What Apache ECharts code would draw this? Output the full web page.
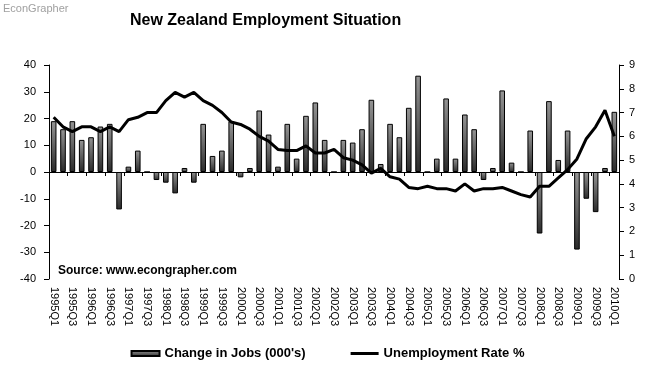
<!DOCTYPE html>
<html>
<head>
<meta charset="utf-8">
<script src="https://cdn.jsdelivr.net/npm/echarts@6/dist/echarts.min.js"></script>
<style>
html,body{margin:0;padding:0;background:#fff;}
#c{width:655px;height:365px;}
</style>
</head>
<body>
<div id="c"></div>
<script>
// Categories: quarters 1995Q1 .. 2010Q1
const quarters = [];
for (let y = 1995; y <= 2010; y++) {
  for (let q = 1; q <= 4; q++) {
    if (y === 2010 && q > 1) break;
    quarters.push(y + 'Q' + q);
  }
}
// Change in Jobs (000's)
const jobsChange = [
  19, 16, 19, 12, 13, 17, 18, -14, 2, 8,
  0, -3, -4, -8, 1.5, -4, 18, 6, 8, 19,
  -2, 1.5, 23, 14, 2, 18, 5, 21, 26, 12,
  0, 12, 11, 16, 27, 3, 18, 13, 24, 36,
  0, 5, 27.5, 5, 21.5, 16, -3, 1.5, 30.5, 3.5,
  0, 15.5, -23, 26.5, 4.5, 15.5, -29, -10, -15, 1.5,
  22.5
];
// Unemployment Rate %
const unemploymentRate = [
  6.8, 6.4, 6.2, 6.4, 6.4, 6.2, 6.4, 6.2, 6.7, 6.8,
  7.0, 7.0, 7.5, 7.85, 7.65, 7.85, 7.5, 7.3, 7.0, 6.6,
  6.5, 6.3, 6.0, 5.8, 5.45, 5.4, 5.4, 5.6, 5.3, 5.3,
  5.45, 5.1, 5.0, 4.8, 4.45, 4.65, 4.3, 4.2, 3.85, 3.8,
  3.9, 3.8, 3.8, 3.7, 4.0, 3.7, 3.8, 3.8, 3.85, 3.7,
  3.55, 3.45, 3.9, 3.9, 4.25, 4.6, 5.05, 5.9, 6.4, 7.1,
  6.0
];

const FONT = '"Liberation Sans", Arial, sans-serif';
const chart = echarts.init(document.getElementById('c'), null, {renderer: 'canvas'});
chart.setOption({
  animation: false,
  backgroundColor: '#fff',
  textStyle: {fontFamily: FONT},
  title: {
    text: 'New Zealand Employment Situation',
    left: 125,
    top: 8,
    textStyle: {fontFamily: FONT, fontSize: 16, fontWeight: 'bold', color: '#000'}
  },
  graphic: [
    {type: 'text', left: 3, top: 3, style: {text: 'EconGrapher', fill: '#a0a0a0', font: '11px ' + FONT}},
    {type: 'text', left: 58, top: 265, z: 10, style: {text: 'Source: www.econgrapher.com', fill: '#000', font: 'bold 12px ' + FONT}}
  ],
  legend: {
    left: 'center',
    top: 342,
    itemGap: 45,
    itemWidth: 28,
    itemHeight: 5,
    textStyle: {fontFamily: FONT, fontSize: 13, fontWeight: 'bold', color: '#000'},
    data: [
      {name: "Change in Jobs (000's)", icon: 'rect'},
      {name: 'Unemployment Rate %', icon: 'path://M0,0L28,0L28,3L0,3Z'}
    ]
  },
  grid: {left: 49, right: 36, top: 65, bottom: 86, containLabel: false},
  xAxis: [
    {
      type: 'category',
      data: quarters,
      position: 'bottom',
      axisLine: {show: false, onZero: false},
      axisTick: {show: false},
      axisLabel: {interval: 1, rotate: -90, fontSize: 11, color: '#000', margin: 8, fontFamily: FONT}
    },
    {
      type: 'category',
      data: quarters,
      position: 'top',
      axisLine: {show: true, onZero: true, onZeroAxisIndex: 0, lineStyle: {color: '#000', width: 1}},
      axisTick: {show: true, interval: 1, length: 4, inside: true, lineStyle: {color: '#000'}},
      axisLabel: {show: false},
      splitLine: {show: false}
    }
  ],
  yAxis: [
    {
      type: 'value',
      min: -40, max: 40, interval: 10,
      axisLine: {show: true, lineStyle: {color: '#000'}},
      axisTick: {show: true, length: 5, lineStyle: {color: '#000'}},
      axisLabel: {fontSize: 11, color: '#000', margin: 13, fontFamily: FONT},
      splitLine: {show: false}
    },
    {
      type: 'value',
      min: 0, max: 9, interval: 1,
      position: 'right',
      axisLine: {show: true, lineStyle: {color: '#000'}},
      axisTick: {show: true, length: 5, lineStyle: {color: '#000'}},
      axisLabel: {fontSize: 11, color: '#000', margin: 10, fontFamily: FONT},
      splitLine: {show: false}
    }
  ],
  series: [
    {
      name: "Change in Jobs (000's)",
      type: 'bar',
      xAxisIndex: 0,
      yAxisIndex: 0,
      data: jobsChange,
      barWidth: '60%',
      itemStyle: {
        color: new echarts.graphic.LinearGradient(0, 0, 0, 1, [
          {offset: 0, color: '#959595'},
          {offset: 1, color: '#2a2a2a'}
        ]),
        borderColor: '#000',
        borderWidth: 1
      }
    },
    {
      name: 'Unemployment Rate %',
      type: 'line',
      xAxisIndex: 0,
      yAxisIndex: 1,
      data: unemploymentRate,
      symbol: 'none',
      lineStyle: {color: '#000', width: 3},
      itemStyle: {color: '#000'},
      z: 5
    }
  ]
});
</script>
</body>
</html>
